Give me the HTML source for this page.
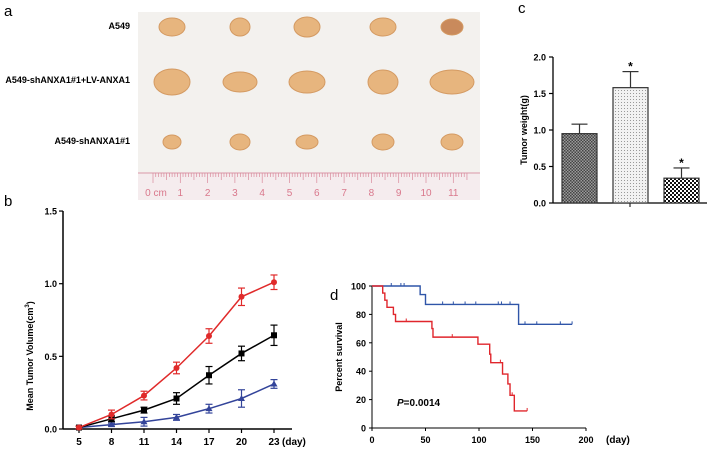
<!DOCTYPE html>
<html><head><meta charset="utf-8">
<style>
html,body{margin:0;padding:0;background:#fff;}
svg{display:block;font-family:"Liberation Sans",Arial,sans-serif;}
</style></head>
<body>
<svg id="fig" width="709" height="450" viewBox="0 0 709 450" xmlns="http://www.w3.org/2000/svg">
<defs>
<pattern id="pDark" width="3" height="3" patternUnits="userSpaceOnUse"><rect width="3" height="3" fill="#9a9a9a"/><rect width="1.5" height="1.5" fill="#444"/><rect x="1.5" y="1.5" width="1.5" height="1.5" fill="#444"/></pattern>
<pattern id="pLight" width="3" height="3" patternUnits="userSpaceOnUse"><rect width="3" height="3" fill="#f2f2f2"/><rect width="1" height="1" fill="#999"/></pattern>
<pattern id="pCheck" width="4" height="4" patternUnits="userSpaceOnUse"><rect width="4" height="4" fill="#fff"/><rect width="2" height="2" fill="#111"/><rect x="2" y="2" width="2" height="2" fill="#111"/></pattern>
</defs>
<g id="panelA"></g>
<g id="panelB"></g>
<g id="panelC"></g>
<g id="panelD"></g>
</svg>
<script>
// ---- Panel b data ----
const days = [5, 8, 11, 14, 17, 20, 23];
const redVals = [0.01, 0.10, 0.23, 0.42, 0.64, 0.91, 1.01];
const redErr = [0.01, 0.03, 0.03, 0.04, 0.05, 0.06, 0.05];
const blackVals = [0.01, 0.07, 0.13, 0.21, 0.37, 0.52, 0.645];
const blackErr = [0.01, 0.02, 0.02, 0.04, 0.06, 0.05, 0.07];
const blueVals = [0.01, 0.03, 0.05, 0.08, 0.14, 0.21, 0.31];
const blueErr = [0.01, 0.01, 0.03, 0.02, 0.03, 0.06, 0.03];
const bTicks = ["0.0", "0.5", "1.0", "1.5"];
// ---- Panel c data ----
const barGroups = ["A549", "A549-shANXA1#1+LV-ANXA1", "A549-shANXA1#1"];
const barVals = [0.95, 1.58, 0.34];
const barErr = [0.13, 0.22, 0.14];
const barStar = [false, true, true];
const cTicks = ["0.0", "0.5", "1.0", "1.5", "2.0"];
// ---- Panel d data ----
const blueTimes = [0, 45, 50, 137, 187];
const blueSurv = [100, 94, 87, 73, 73];
const blueCensT = [18, 27, 30, 66, 76, 87, 97, 118, 121, 129, 143, 154, 176, 187];
const redTimes = [0, 10, 12, 14, 20, 22, 56, 57, 99, 110, 111, 122, 127, 129, 133, 145];
const redSurv = [100, 95, 90, 85, 80, 75, 70, 64, 59, 52, 46, 38, 31, 23, 12, 12];
const redCensT = [32, 75, 110, 120, 131, 145];
const dXTicks = [0, 50, 100, 150, 200];
const dYTicks = [0, 20, 40, 60, 80, 100];

const NS = "http://www.w3.org/2000/svg";
function mk(parent, tag, attrs, text) {
  const e = document.createElementNS(NS, tag);
  for (const k in attrs) e.setAttribute(k, attrs[k]);
  if (text !== undefined) e.textContent = text;
  parent.appendChild(e);
  return e;
}

// ---- Panel a (photo approximation) ----
const A = document.getElementById('panelA');
let t = mk(A, 'text', {x: 4, y: 16, 'font-size': 15}, 'a');


let bg = mk(A, 'rect', {x: 138, y: 12, width: 342, height: 188, fill: '#f3f1ee'});


const rowLabels = ["A549", "A549-shANXA1#1+LV-ANXA1", "A549-shANXA1#1"];
const rowY = [27, 82, 142];
const labY = [29, 83, 144];
const tumorX = [172, 240, 307, 383, 452];
const tumorR = [[13, 10, 13, 13, 11, 8], [18, 17, 18, 15, 22], [9, 10, 11, 11, 11]];
const tumorRy = [[9, 9, 10, 9, 8], [13, 10, 11, 12, 12], [7, 8, 7, 8, 8]];
for (let r = 0; r < 3; r++) {
  t = mk(A, 'text', {x: 130, y: labY[r], 'font-size': 9, 'font-weight': 'bold', 'text-anchor': 'end'}, rowLabels[r]);
  
  
  for (let i = 0; i < 5; i++) {
    const e = mk(A, 'ellipse', {cx: tumorX[i], cy: rowY[r], rx: tumorR[r][i], ry: tumorRy[r][i], fill: r === 0 && i === 4 ? '#c98a5c' : '#e7b57e', stroke: '#d49a62', 'stroke-width': 1});
    
    
  }
}
let ruler = mk(A, 'rect', {x: 138, y: 172, width: 342, height: 28, fill: '#f5ecee'});


mk(A, 'line', {x1: 138, y1: 173, x2: 480, y2: 173, stroke: '#d99aa8', 'stroke-width': 1});
for (let k = 0; k <= 115; k++) {
  const x = 153 + k * 2.73;
  if (x > 480) break;
  mk(A, 'line', {x1: x, y1: 173, x2: x, y2: k % 10 === 0 ? 183 : (k % 5 === 0 ? 180 : 177), stroke: '#d98a9c', 'stroke-width': 0.7});
}
for (let n = 0; n <= 11; n++) {
  t = mk(A, 'text', {x: 153 + n * 27.3 + (n === 0 ? 3 : 0), y: 196, 'font-size': 10, fill: '#d9788c', 'text-anchor': 'middle'}, n === 0 ? '0 cm' : String(n));
  
  
}

// ---- Panel b ----
const B = document.getElementById('panelB');
const bx = d => 79 + (d - 5) * (195 / 18);
const by = v => 429 - v * 145.3;
t = mk(B, 'text', {x: 4, y: 206, 'font-size': 15}, 'b');


mk(B, 'line', {x1: 63, y1: by(1.5), x2: 63, y2: 429, stroke: '#000', 'stroke-width': 1.5});
mk(B, 'line', {x1: 63, y1: 429, x2: 292, y2: 429, stroke: '#000', 'stroke-width': 1.5});
bTicks.forEach((s, i) => {
  const v = parseFloat(s), y = by(v);
  mk(B, 'line', {x1: 59, y1: y, x2: 63, y2: y, stroke: '#000', 'stroke-width': 1.2});
  t = mk(B, 'text', {x: 57, y: y + 3.5, 'font-size': 9, 'font-weight': 'bold', 'text-anchor': 'end'}, s);
  
  
});
days.forEach(d => {
  mk(B, 'line', {x1: bx(d), y1: 429, x2: bx(d), y2: 433, stroke: '#000', 'stroke-width': 1.2});
  t = mk(B, 'text', {x: bx(d), y: 445, 'font-size': 10, 'font-weight': 'bold', 'text-anchor': 'middle'}, String(d));
  
  
});
t = mk(B, 'text', {x: 282, y: 445, 'font-size': 10, 'font-weight': 'bold'}, '(day)');


t = mk(B, 'text', {x: 0, y: 0, 'font-size': 9, 'font-weight': 'bold', 'text-anchor': 'middle', transform: 'translate(33,356) rotate(-90)'});


t.innerHTML = 'Mean Tumor Volume(cm<tspan dy="-4" font-size="6">3</tspan><tspan dy="4">)</tspan>';
function series(vals, errs, color, shape, name) {
  const g = mk(B, 'g', {});
  
  
  mk(g, 'polyline', {points: days.map((d, i) => bx(d) + ',' + by(vals[i])).join(' '), fill: 'none', stroke: color, 'stroke-width': 1.5});
  days.forEach((d, i) => {
    const x = bx(d), y1 = by(vals[i] + errs[i]), y2 = by(vals[i] - errs[i]);
    mk(g, 'line', {x1: x, y1: y1, x2: x, y2: y2, stroke: color, 'stroke-width': 1.2});
    mk(g, 'line', {x1: x - 3.5, y1: y1, x2: x + 3.5, y2: y1, stroke: color, 'stroke-width': 1.2});
    mk(g, 'line', {x1: x - 3.5, y1: y2, x2: x + 3.5, y2: y2, stroke: color, 'stroke-width': 1.2});
    const y = by(vals[i]);
    let m;
    if (shape === 'circle') m = mk(g, 'circle', {cx: x, cy: y, r: 3, fill: color});
    else if (shape === 'square') m = mk(g, 'rect', {x: x - 3, y: y - 3, width: 6, height: 6, fill: color});
    else m = mk(g, 'polygon', {points: `${x},${y - 3.5} ${x - 3.5},${y + 2.5} ${x + 3.5},${y + 2.5}`, fill: color});
    
    
  });
}
series(blueVals, blueErr, '#33449a', 'tri', 'series-shANXA1');
series(blackVals, blackErr, '#000', 'square', 'series-A549');
series(redVals, redErr, '#e02a2a', 'circle', 'series-LV-ANXA1');

// ---- Panel c ----
const C = document.getElementById('panelC');
const cy = v => 203 - v * 73;
const barX = [562, 613, 664], barW = 35;
const fills = ['url(#pDark)', 'url(#pLight)', 'url(#pCheck)'];
t = mk(C, 'text', {x: 518, y: 13, 'font-size': 15}, 'c');


mk(C, 'line', {x1: 553, y1: cy(2), x2: 553, y2: 203, stroke: '#000', 'stroke-width': 1.3});
mk(C, 'line', {x1: 553, y1: 203, x2: 707, y2: 203, stroke: '#000', 'stroke-width': 1.3});
mk(C, 'line', {x1: 630, y1: 203, x2: 630, y2: 207, stroke: '#000', 'stroke-width': 1});
cTicks.forEach(s => {
  const y = cy(parseFloat(s));
  mk(C, 'line', {x1: 549, y1: y, x2: 553, y2: y, stroke: '#000', 'stroke-width': 1.2});
  t = mk(C, 'text', {x: 546, y: y + 3.5, 'font-size': 9, 'font-weight': 'bold', 'text-anchor': 'end'}, s);
  
  
});
t = mk(C, 'text', {x: 0, y: 0, 'font-size': 9, 'font-weight': 'bold', 'text-anchor': 'middle', transform: 'translate(527,130) rotate(-90)'}, 'Tumor weight(g)');


barVals.forEach((v, i) => {
  const x = barX[i], top = cy(v), et = cy(v + barErr[i]);
  const r = mk(C, 'rect', {x: x, y: top, width: barW, height: 203 - top, fill: fills[i], stroke: '#333', 'stroke-width': 1.2});
  
  
  mk(C, 'line', {x1: x + barW / 2, y1: top, x2: x + barW / 2, y2: et, stroke: '#333', 'stroke-width': 1.2});
  mk(C, 'line', {x1: x + barW / 2 - 8, y1: et, x2: x + barW / 2 + 8, y2: et, stroke: '#333', 'stroke-width': 1.2});
  if (barStar[i]) {
    t = mk(C, 'text', {x: x + barW / 2, y: et - 1, 'font-size': 12, 'font-weight': 'bold', 'text-anchor': 'middle'}, '*');
    
    
  }
});

// ---- Panel d ----
const D = document.getElementById('panelD');
const dx = d => 372 + d * 1.07;
const dy = s => 428 - s * 1.42;
t = mk(D, 'text', {x: 330, y: 300, 'font-size': 15}, 'd');


mk(D, 'line', {x1: 372, y1: dy(100), x2: 372, y2: 428, stroke: '#000', 'stroke-width': 1});
mk(D, 'line', {x1: 372, y1: 428, x2: 586, y2: 428, stroke: '#000', 'stroke-width': 1});
dYTicks.forEach(v => {
  mk(D, 'line', {x1: 369, y1: dy(v), x2: 372, y2: dy(v), stroke: '#000'});
  t = mk(D, 'text', {x: 366, y: dy(v) + 3.5, 'font-size': 9, 'font-weight': 'bold', 'text-anchor': 'end'}, String(v));
  
  
});
dXTicks.forEach(v => {
  mk(D, 'line', {x1: dx(v), y1: 428, x2: dx(v), y2: 431, stroke: '#000'});
  t = mk(D, 'text', {x: dx(v), y: 443, 'font-size': 9, 'font-weight': 'bold', 'text-anchor': 'middle'}, String(v));
  
  
});
t = mk(D, 'text', {x: 606, y: 443, 'font-size': 10, 'font-weight': 'bold'}, '(day)');


t = mk(D, 'text', {x: 0, y: 0, 'font-size': 9, 'font-weight': 'bold', 'text-anchor': 'middle', transform: 'translate(342,357) rotate(-90)'}, 'Percent survival');


t = mk(D, 'text', {x: 397, y: 406, 'font-size': 10, 'font-weight': 'bold'});


t.innerHTML = '<tspan font-style="italic">P</tspan>=0.0014';
function stepAt(times, surv, x) {
  let s = surv[0];
  for (let i = 0; i < times.length; i++) if (times[i] <= x) s = surv[i];
  return s;
}
function km(times, surv, cens, color, name) {
  const g = mk(D, 'g', {});
  
  
  let p = `M${dx(times[0])},${dy(surv[0])}`;
  for (let i = 1; i < times.length; i++) p += ` H${dx(times[i])} V${dy(surv[i])}`;
  mk(g, 'path', {d: p, fill: 'none', stroke: color, 'stroke-width': 1.4});
  cens.forEach(c => {
    const y = dy(stepAt(times, surv, c));
    const m = mk(g, 'line', {x1: dx(c), y1: y - 3, x2: dx(c), y2: y, stroke: color, 'stroke-width': 1});
    
    
  });
}
km(blueTimes, blueSurv, blueCensT, '#2f55a8', 'survival-curve-blue');
km(redTimes, redSurv, redCensT, '#e0262c', 'survival-curve-red');
</script>
</body></html>
